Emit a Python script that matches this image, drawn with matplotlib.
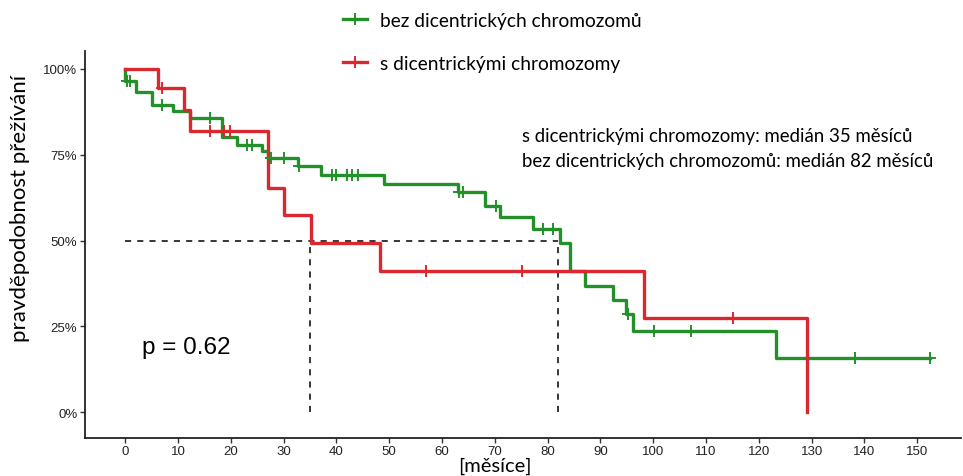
import matplotlib
matplotlib.use("Agg")
import matplotlib.pyplot as plt
from matplotlib.lines import Line2D
from matplotlib.ticker import FuncFormatter

# Kaplan-Meier estimates (survival in %) for the two groups
green_label = "bez dicentrických chromozomů"
green_times = [0, 0, 2, 5, 9, 12.3, 18.3, 21.1, 26, 27.0, 32.8, 37.1, 49.1, 63.0,
               68.2, 71, 77.3, 82.3, 84.2, 87.1, 92.3, 94.9, 96.1, 123.3, 152.5]
green_surv = [100, 96.6, 93.2, 89.5, 87.6, 85.6, 80.1, 77.9, 76.0, 74.0, 71.7, 69.2,
              66.5, 64.1, 60.2, 56.8, 53.4, 49.2, 41.0, 36.9, 32.8, 28.6, 23.6, 15.7, 15.7]
green_censor = [0.3, 1, 7, 16, 23, 24, 27.6, 30, 33, 39.1, 40, 42.1, 43, 44, 63.3, 64,
                70.3, 79.1, 81.1, 95.2, 100.2, 107.2, 138.3, 152.5]

red_label = "s dicentrickými chromozomy"
red_times = [0, 6.2, 11.2, 12.2, 27, 30, 35.2, 48.2, 98.2, 129.2]
red_surv = [100, 94.4, 88.1, 81.8, 65.3, 57.3, 49.2, 41.0, 27.4, 0]
red_censor = [7, 16, 18.8, 19.8, 57, 75.1, 115.2]

medians = [35, 82]
median_text = ["s dicentrickými chromozomy: medián 35 měsíců",
               "bez dicentrických chromozomů: medián 82 měsíců"]
p_text = "p = 0.62"

x_ticks = list(range(0, 151, 10))
y_ticks = [0, 25, 50, 75, 100]

GREEN = "#24902a"
RED = "#d9282f"
TEXT_FONT = ["Lato", "DejaVu Sans"]
TICK_FONT = ["Liberation Sans", "DejaVu Sans"]


def step_value(times, surv, t):
    val = surv[0]
    for ti, si in zip(times, surv):
        if ti <= t:
            val = si
    return val


fig = plt.figure(figsize=(9.63, 4.77), dpi=100)
ax = fig.add_axes([0.0883, 0.0797, 0.9097, 0.8113])

ax.step(green_times, green_surv, where="post", color=GREEN, lw=2.4, zorder=3)
ax.step(red_times, red_surv, where="post", color=RED, lw=2.4, zorder=4)

ax.plot(green_censor, [step_value(green_times, green_surv, t) for t in green_censor],
        ls="none", marker="+", ms=9, mew=1.4, color=GREEN, zorder=5)
ax.plot(red_censor, [step_value(red_times, red_surv, t) for t in red_censor],
        ls="none", marker="+", ms=9, mew=1.4, color=RED, zorder=5)

# median guides
dash = dict(color="black", lw=1.1, ls=(0, (4, 4)), zorder=2)
ax.plot([0, max(medians)], [50, 50], **dash)
for m in medians:
    ax.plot([m, m], [0, 50], **dash)

ax.text(3.1, 19, p_text, fontsize=17.5, family=TICK_FONT, va="center", ha="left")
ax.text(75.2, 80.5, median_text[0], fontsize=13.4, family=TEXT_FONT, va="center")
ax.text(75.2, 73.2, median_text[1], fontsize=13.4, family=TEXT_FONT, va="center")

ax.set_xlim(-7.6, 158.3)
ax.set_ylim(-7.5, 105.2)
ax.set_xticks(x_ticks)
ax.set_yticks(y_ticks)
ax.yaxis.set_major_formatter(FuncFormatter(lambda v, _: f"{v:.0f}%"))
for lab in ax.get_xticklabels() + ax.get_yticklabels():
    lab.set_family(TICK_FONT)
    lab.set_fontsize(9.5)
    lab.set_color("#222222")
ax.tick_params(length=3.5, width=1.0, color="#333333", pad=2)
ax.tick_params(axis="x", pad=1.2)

for side in ("top", "right"):
    ax.spines[side].set_visible(False)
for side in ("left", "bottom"):
    ax.spines[side].set_linewidth(1.3)
    ax.spines[side].set_color("#222222")

ax.set_ylabel("pravděpodobnost přežívání", fontsize=16, family=TEXT_FONT)
ax.yaxis.set_label_coords(-0.063, 0.597)
ax.set_xlabel("[měsíce]", fontsize=14.5, family=TEXT_FONT)
ax.xaxis.set_label_coords((495 - 85) / 876, -0.047)

handles = [Line2D([], [], color=GREEN, lw=2.4, marker="+", ms=9, mew=1.4),
           Line2D([], [], color=RED, lw=2.4, marker="+", ms=9, mew=1.4)]
fig.legend(handles, [green_label, red_label], loc="upper left",
           bbox_to_anchor=(0.356, 0.973), frameon=False, handlelength=1.25,
           handletextpad=0.68, labelspacing=1.35, borderpad=0, borderaxespad=0,
           prop={"family": TEXT_FONT, "size": 13.8})

fig.savefig("out.png", dpi=100)
